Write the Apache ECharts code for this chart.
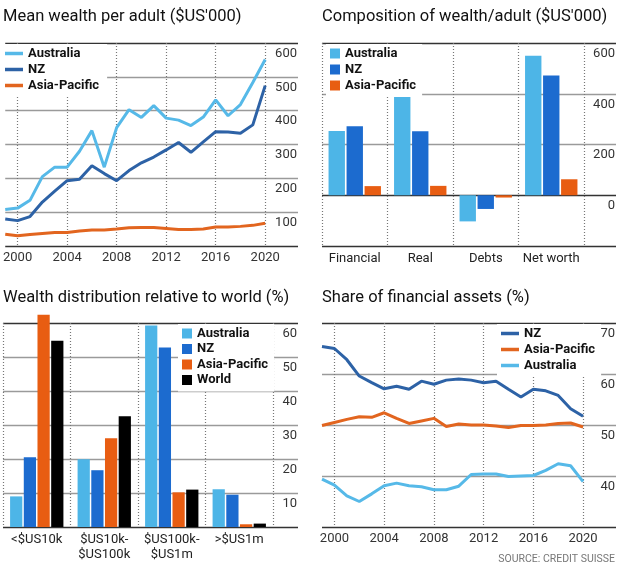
<!DOCTYPE html>
<html>
<head>
<meta charset="utf-8">
<script src="https://cdn.jsdelivr.net/npm/echarts@6/dist/echarts.min.js"></script>
<style>
  html, body { margin: 0; padding: 0; background: #fff; }
  #chart { width: 620px; height: 573px; }
</style>
</head>
<body>
<div id="chart"></div>
<script>
const FONT = "Roboto";

// mean wealth per adult, $US'000
const years = [1999, 2000, 2001, 2002, 2003, 2004, 2005, 2006, 2007, 2008, 2009,
  2010, 2011, 2012, 2013, 2014, 2015, 2016, 2017, 2018, 2019, 2020];
const yearTicks = [2000, 2004, 2008, 2012, 2016, 2020];
const wealthAus = [108, 112, 135, 205, 233, 233, 280, 341, 233, 350, 403,
  380, 415, 378, 372, 356, 381, 432, 385, 418, 483, 551];
const wealthNZ = [80, 75, 87, 130, 162, 193, 197, 237, 214, 193, 223,
  246, 263, 284, 306, 277, 308, 338, 337, 333, 358, 474];
const wealthAP = [35, 30, 34, 37, 40, 40, 44, 47, 47, 50, 54,
  55, 55, 52, 49, 49, 50, 56, 56, 58, 61, 67];

// composition of wealth per adult, $US'000
const compCats = ["Financial", "Real", "Debts", "Net worth"];
const compAus = [253, 398, -103, 550];
const compNZ = [272, 252, -54, 472];
const compAP = [36, 37, -9, 63];

// wealth distribution relative to world, %
const distCats = ["<$US10k", "$US10k-\n$US100k", "$US100k-\n$US1m", ">$US1m"];
const distAus = [9.0, 19.9, 59.3, 11.1];
const distNZ = [20.5, 16.7, 52.8, 9.5];
const distAP = [62.4, 26.1, 10.2, 0.8];
const distWorld = [54.8, 32.6, 11.0, 1.0];

// share of financial assets, %
const shareNZ = [65.4, 65.0, 62.8, 59.6, 58.3, 57.1, 57.6, 57.0, 58.6, 58.0, 58.8,
  59.0, 58.8, 58.3, 58.6, 57.0, 55.5, 57.0, 56.7, 55.8, 53.2, 51.7];
const shareAP = [49.9, 50.5, 51.1, 51.6, 51.5, 52.4, 51.3, 50.3, 50.8, 51.3, 49.7,
  50.2, 50.0, 50.0, 49.8, 49.5, 49.9, 49.9, 50.0, 50.3, 50.4, 49.6];
const shareAus = [39.4, 38.2, 36.1, 35.0, 36.5, 38.1, 38.6, 38.1, 37.9, 37.3, 37.3,
  38.0, 40.3, 40.4, 40.4, 39.9, 40.0, 40.1, 41.1, 42.4, 42.0, 38.9];

const LINE_AUS = "#56b9e8", LINE_NZ = "#2d62a6", LINE_AP = "#e2651f";
const BAR_AUS = "#4db5e7", BAR_NZ = "#1c6bcf", BAR_AP = "#e85d12", BAR_WORLD = "#000";
const DARK = "#333", GRID = "#9a9a9a";

const pairs = (ys) => years.map((y, i) => [y, ys[i]]);

// frame lines top and bottom dark, the rest grey
function edgeColors(n, zeroIdx) {
  const c = [];
  for (let i = 0; i < n; i++) c.push(i === 0 || i === n - 1 || i === zeroIdx ? DARK : GRID);
  return c;
}

function valueYAxis(gridIndex, min, max, interval, zeroIdx) {
  const n = Math.round((max - min) / interval) + 1;
  return {
    gridIndex, type: "value", position: "right", min, max, interval,
    axisLine: { show: false }, axisTick: { show: false },
    axisLabel: {
      inside: true, margin: 1, align: "right", verticalAlign: "top",
      padding: [4, 0, 0, 0], fontFamily: FONT, fontSize: 13, color: "#333",
      showMinLabel: false
    },
    splitLine: { show: true, lineStyle: { color: edgeColors(n, zeroIdx), width: 1.4 } }
  };
}

function hiddenYAxis(gridIndex, min, max) {
  return { gridIndex, type: "value", min, max, show: false, splitLine: { show: false } };
}

const dotted = { show: true, lineStyle: { type: [1, 2], color: "#777", width: 1.2 } };

function yearXAxis(gridIndex) {
  return {
    gridIndex, type: "value", min: 1999, max: 2022.65,
    axisLine: { show: false },
    axisTick: { show: false, customValues: yearTicks },
    axisLabel: {
      customValues: yearTicks, formatter: (v) => String(v),
      margin: 5, fontFamily: FONT, fontSize: 13, color: "#333"
    },
    splitLine: dotted
  };
}

function catXAxis(gridIndex, data) {
  return {
    gridIndex, type: "category", data,
    axisLine: { show: false, onZero: false }, axisTick: { show: false },
    axisLabel: { margin: 5, fontFamily: FONT, fontSize: 13, color: "#222", lineHeight: 15, interval: 0 },
    splitLine: Object.assign({ interval: 0 }, dotted)
  };
}

function hiddenXAxis(gridIndex) {
  return { gridIndex, type: "value", min: 0, max: 1, show: false, splitLine: { show: false } };
}

const titleStyle = { fontFamily: FONT, fontSize: 16.5, fontWeight: "normal", color: "#111" };
const legendText = { fontFamily: FONT, fontSize: 13, fontWeight: "bold", color: "#111", lineHeight: 15 };

function lineSeries(name, data, color, x, y) {
  return {
    type: "line", name, data, xAxisIndex: x, yAxisIndex: y,
    symbol: "none", lineStyle: { color, width: 3 }, itemStyle: { color }
  };
}

function barSeries(name, data, color, x, y, catGap, gap) {
  return {
    type: "bar", name, data, xAxisIndex: x, yAxisIndex: y, clip: false,
    barCategoryGap: catGap, barGap: gap, itemStyle: { color }
  };
}

const chart = echarts.init(document.getElementById("chart"));

chart.setOption({
  animation: false,
  title: [
    { text: "Mean wealth per adult ($US'000)", left: 3, top: 8, padding: 0, textStyle: titleStyle },
    { text: "Composition of wealth/adult ($US'000)", left: 322, top: 8, padding: 0, textStyle: titleStyle },
    { text: "Wealth distribution relative to world (%)", left: 3, top: 289, padding: 0, textStyle: titleStyle },
    { text: "Share of financial assets (%)", left: 322, top: 289, padding: 0, textStyle: titleStyle },
    {
      text: "SOURCE: CREDIT SUISSE", right: 5, top: 554, padding: 0,
      textStyle: { fontFamily: FONT, fontSize: 10.5, fontWeight: "normal", color: "#777" }
    }
  ],
  legend: [
    {
      orient: "vertical", left: 3, top: 44, padding: [2, 8, 4, 2], backgroundColor: "#fff",
      icon: "rect", itemWidth: 18, itemHeight: 3.5, itemGap: 1, selectedMode: false,
      textStyle: legendText,
      data: [
        { name: "Australia", itemStyle: { color: LINE_AUS } },
        { name: "NZ", itemStyle: { color: LINE_NZ } },
        { name: "Asia-Pacific", itemStyle: { color: LINE_AP } }
      ]
    },
    {
      orient: "vertical", left: 326, top: 44, padding: [2, 6, 4, 4], backgroundColor: "#fff",
      icon: "rect", itemWidth: 10, itemHeight: 10, itemGap: 1, selectedMode: false,
      textStyle: legendText,
      data: [
        { name: "Australia", itemStyle: { color: BAR_AUS } },
        { name: "NZ", itemStyle: { color: BAR_NZ } },
        { name: "Asia-Pacific", itemStyle: { color: BAR_AP } }
      ]
    },
    {
      orient: "vertical", left: 178, top: 324, padding: [2, 6, 4, 4], backgroundColor: "#fff",
      icon: "rect", itemWidth: 10, itemHeight: 10, itemGap: 0.5, selectedMode: false,
      textStyle: legendText,
      data: [
        { name: "Australia", itemStyle: { color: BAR_AUS } },
        { name: "NZ", itemStyle: { color: BAR_NZ } },
        { name: "Asia-Pacific", itemStyle: { color: BAR_AP } },
        { name: "World", itemStyle: { color: BAR_WORLD } }
      ]
    },
    {
      orient: "vertical", left: 497, top: 324, padding: [2, 6, 4, 4], backgroundColor: "#fff",
      icon: "rect", itemWidth: 18, itemHeight: 3.5, itemGap: 1, selectedMode: false,
      textStyle: legendText,
      data: [
        { name: "NZ", itemStyle: { color: LINE_NZ } },
        { name: "Asia-Pacific", itemStyle: { color: LINE_AP } },
        { name: "Australia", itemStyle: { color: LINE_AUS } }
      ]
    }
  ],
  grid: [
    { left: 3, right: 322, top: 43, bottom: 327 },     // 0 mean wealth
    { left: 322, right: 36, top: 43, bottom: 327 },    // 1 composition bars
    { left: 322, right: 4, top: 43, bottom: 327 },     // 2 composition frame
    { left: 3, right: 347, top: 323, bottom: 46 },     // 3 distribution bars
    { left: 3, right: 322, top: 323, bottom: 46 },     // 4 distribution frame
    { left: 322, right: 4, top: 323, bottom: 46 }      // 5 share of financial assets
  ],
  xAxis: [
    yearXAxis(0),
    catXAxis(1, compCats),
    hiddenXAxis(2),
    catXAxis(3, distCats),
    hiddenXAxis(4),
    yearXAxis(5)
  ],
  yAxis: [
    valueYAxis(0, 0, 600, 100, -1),
    hiddenYAxis(1, -200, 600),
    valueYAxis(2, -200, 600, 200, 1),
    hiddenYAxis(3, 0, 60),
    valueYAxis(4, 0, 60, 10, -1),
    valueYAxis(5, 30, 70, 10, -1)
  ],
  series: [
    lineSeries("Asia-Pacific", pairs(wealthAP), LINE_AP, 0, 0),
    lineSeries("NZ", pairs(wealthNZ), LINE_NZ, 0, 0),
    lineSeries("Australia", pairs(wealthAus), LINE_AUS, 0, 0),

    barSeries("Australia", compAus, BAR_AUS, 1, 1, "20%", "10%"),
    barSeries("NZ", compNZ, BAR_NZ, 1, 1, "20%", "10%"),
    barSeries("Asia-Pacific", compAP, BAR_AP, 1, 1, "20%", "10%"),

    barSeries("Australia", distAus, BAR_AUS, 3, 3, "21%", "12%"),
    barSeries("NZ", distNZ, BAR_NZ, 3, 3, "21%", "12%"),
    barSeries("Asia-Pacific", distAP, BAR_AP, 3, 3, "21%", "12%"),
    barSeries("World", distWorld, BAR_WORLD, 3, 3, "21%", "12%"),

    lineSeries("Australia", pairs(shareAus), LINE_AUS, 5, 5),
    lineSeries("Asia-Pacific", pairs(shareAP), LINE_AP, 5, 5),
    lineSeries("NZ", pairs(shareNZ), LINE_NZ, 5, 5)
  ]
});
</script>
</body>
</html>
